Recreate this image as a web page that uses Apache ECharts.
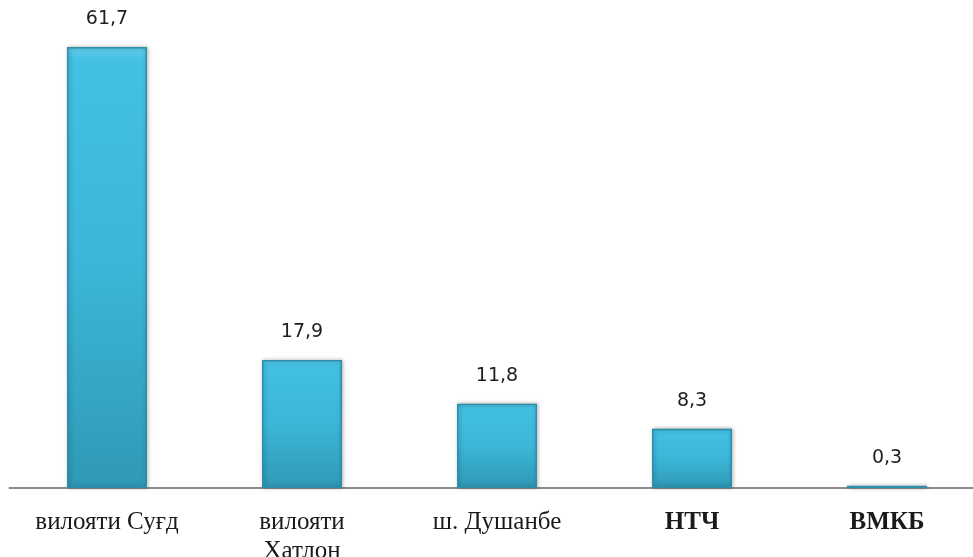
<!DOCTYPE html>
<html>
<head>
<meta charset="utf-8">
<script src="https://cdn.jsdelivr.net/npm/echarts@6/dist/echarts.min.js"></script>
<style>
  html, body { margin: 0; padding: 0; background: #fff; }
  #chart { width: 973px; height: 557px; }
</style>
</head>
<body>
<div id="chart"></div>
<script>
// категорияҳо ва қиматҳо
var categories = ["вилояти Суғд", "вилояти\nХатлон", "ш. Душанбе", "НТЧ", "ВМКБ"];
var values = [61.7, 17.9, 11.8, 8.3, 0.3];
var boldCats = ["НТЧ", "ВМКБ"];

var myChart = echarts.init(document.getElementById('chart'));

var barColor = new echarts.graphic.LinearGradient(0, 0, 0, 1, [
    { offset: 0, color: '#62cdea' },
    { offset: 0.03, color: '#43c0e2' },
    { offset: 0.5, color: '#3cb6d8' },
    { offset: 1, color: '#2f99b5' }
]);

var option = {
    animation: false,
    grid: {
        left: 9.5,
        top: 47,
        width: 975,
        height: 441,
        containLabel: false,
        outerBoundsMode: 'none'
    },
    xAxis: {
        type: 'category',
        data: categories,
        axisLine: {
            lineStyle: { color: '#8c8c8c', width: 2 }
        },
        axisTick: { show: false },
        axisLabel: {
            interval: 0,
            margin: 20,
            color: '#1a1a1a',
            fontFamily: 'Liberation Serif',
            fontSize: 25,
            lineHeight: 29,
            formatter: function (v) {
                return boldCats.indexOf(v) >= 0 ? '{b|' + v + '}' : v;
            },
            rich: {
                b: {
                    fontFamily: 'Liberation Serif',
                    fontSize: 25,
                    fontWeight: 'bold',
                    color: '#1a1a1a'
                }
            }
        }
    },
    yAxis: {
        type: 'value',
        min: 0,
        max: 61.7,
        show: false
    },
    series: [{
        type: 'bar',
        data: values,
        barWidth: 80,
        itemStyle: {
            color: barColor,
            borderColor: '#2c8ea9',
            borderWidth: 1.5,
            shadowColor: 'rgba(0,0,0,0.3)',
            shadowBlur: 4,
            shadowOffsetX: 1,
            shadowOffsetY: 0
        },
        label: {
            show: true,
            position: 'top',
            distance: 18,
            color: '#1f1f1f',
            fontFamily: 'DejaVu Sans',
            fontSize: 19,
            formatter: function (p) {
                return String(p.value).replace('.', ',');
            }
        }
    }]
};

myChart.setOption(option);
</script>
</body>
</html>
